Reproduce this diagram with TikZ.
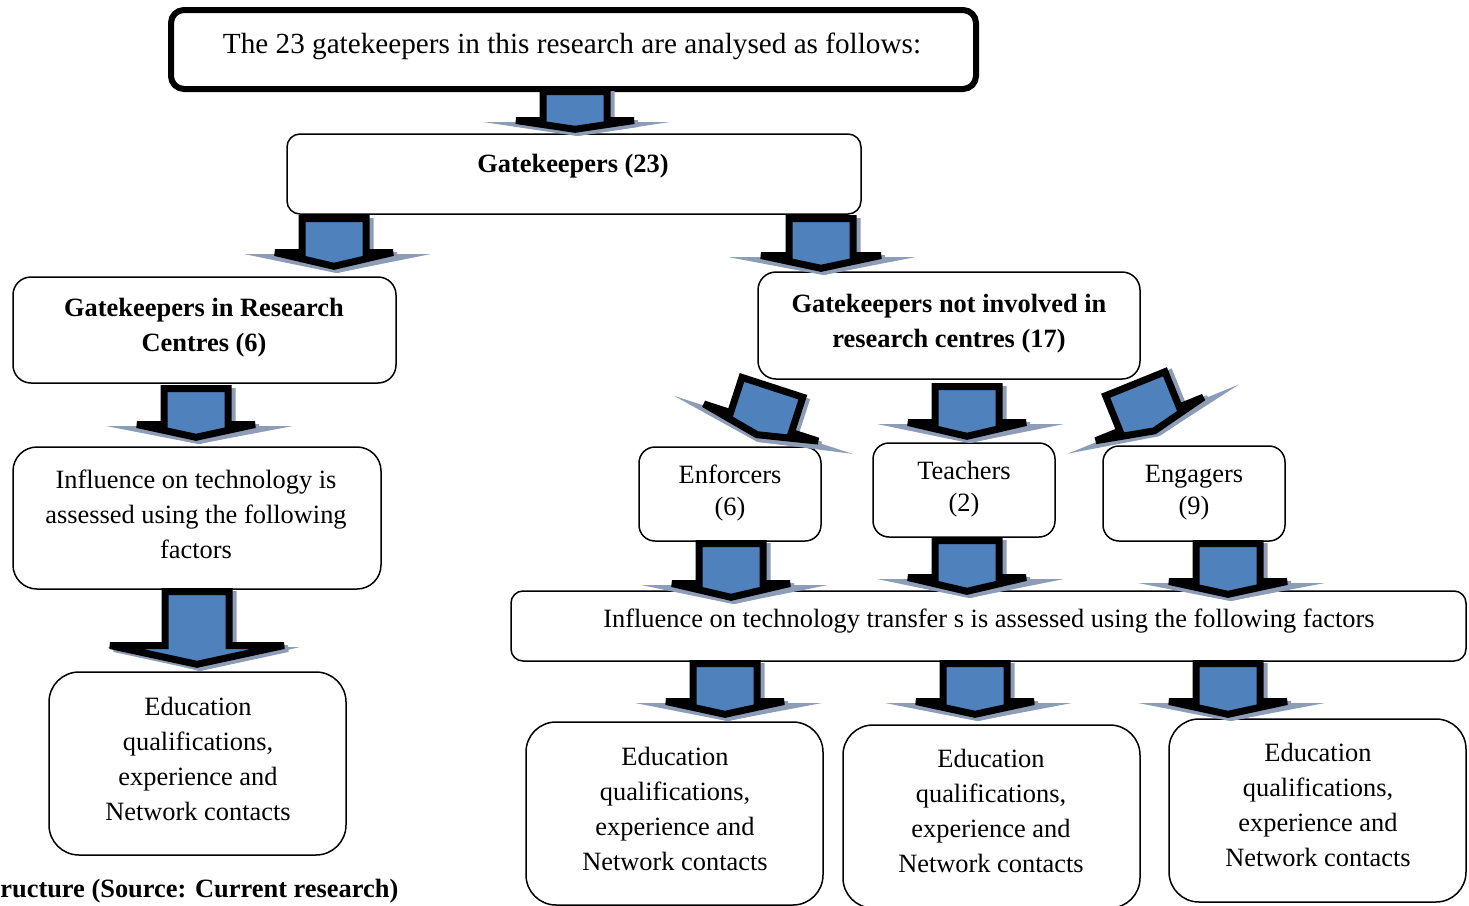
\documentclass[tikz,border=0pt]{standalone}
\usepackage{fontspec}
\setmainfont{Liberation Serif}
\usetikzlibrary{fit}
\definecolor{arrowblue}{HTML}{4F81BD}
\definecolor{arrowshade}{HTML}{8D9DB7}
\tikzset{
  box/.style={draw=black, line width=0.75pt, fill=white, inner sep=0pt, outer sep=0pt},
  txt/.style={align=center, inner sep=0pt, font=\fontsize{13.2}{17.5}\selectfont},
  txtb/.style={align=center, inner sep=0pt, font=\fontsize{13.2}{17.5}\selectfont\bfseries},
  txts/.style={align=center, inner sep=0pt, font=\fontsize{13.2}{16}\selectfont},
  % block arrow pointing down from its origin (top centre of the shaft):
  % #1 wing level, #2 tip, #3 wing half-span, #4/#5 shadow reach left/right
  pics/barrow/.style n args={5}{code={
    \fill[arrowshade] (-#4,#1+5) -- (#5,#1+5) -- (2,#2+3) -- cycle;
    \filldraw[arrowshade, line width=3.5pt, miter limit=2, shift={(4,3)}]
      (-32,3.5) -- (32,3.5) -- (32,#1+3.5) -- (#3-3,#1+3.5) -- (0,#2-3.7)
      -- (-#3+3,#1+3.5) -- (-32,#1+3.5) -- cycle;
    \filldraw[fill=arrowblue, draw=black, line width=3.5pt, miter limit=2]
      (-32,3.5) -- (32,3.5) -- (32,#1+3.5) -- (#3-3,#1+3.5) -- (0,#2-3.7)
      -- (-#3+3,#1+3.5) -- (-32,#1+3.5) -- cycle;
  }}
}
\begin{document}
\begin{tikzpicture}[x=0.5pt, y=-0.5pt]
\useasboundingbox (0,0) rectangle (1469,906);
\clip (0,0) rectangle (1469,906);

% boxes
\node[box, line width=3pt, rounded corners=6.5pt, fit={(171,10) (976,89)}] (b0) {};
\node[box, rounded corners=6.5pt, fit={(287,134) (861,214)}] (b1) {};
\node[box, rounded corners=9pt, fit={(13,277) (396,383)}] (b2) {};
\node[box, rounded corners=9pt, fit={(758,272) (1140,379)}] (b3) {};
\node[box, rounded corners=12pt, fit={(13,447) (381,589)}] (b4) {};
\node[box, rounded corners=15pt, fit={(49,672) (346,855)}] (b5) {};
\node[box, rounded corners=8pt, fit={(639,447) (821,541)}] (b6) {};
\node[box, rounded corners=8pt, fit={(873,443) (1055,537)}] (b7) {};
\node[box, rounded corners=8pt, fit={(1103,446) (1285,541)}] (b8) {};
\node[box, rounded corners=6pt, fit={(511,591) (1466,661)}] (b9) {};
\node[box, rounded corners=15pt, fit={(526,722) (823,905)}] (b10) {};
\node[box, rounded corners=15pt, fit={(843,725) (1140,908)}] (b11) {};
\node[box, rounded corners=15pt, fit={(1169,719) (1466,902)}] (b12) {};

% texts
\node[txt, font=\fontsize{14.6}{17.5}\selectfont] (t0) at (572,46) {\strut The 23 gatekeepers in this research are analysed as follows:\strut};
\node[txtb] (t1) at (573,165) {\strut Gatekeepers (23)\strut};
\node[txtb] (t2) at (204,326.5) {\strut Gatekeepers in Research\\Centres (6)\strut};
\node[txtb] (t3) at (949,322.5) {\strut Gatekeepers not involved in\\research centres (17)\strut};
\node[txt] (t4) at (196,516) {\strut Influence on technology is\\assessed using the following\\factors\strut};
\node[txt] (t5) at (198,760.5) {\strut Education\\qualifications,\\experience and\\Network contacts\strut};
\node[txts] (t6) at (730,493) {\strut Enforcers\\(6)\strut};
\node[txts] (t7) at (964,489) {\strut Teachers\\(2)\strut};
\node[txts] (t8) at (1194,492.5) {\strut Engagers\\(9)\strut};
\node[txt] (t9) at (989,620) {\strut Influence on technology transfer s is assessed using the following factors\strut};
\node[txt] (t10) at (675,810.5) {\strut Education\\qualifications,\\experience and\\Network contacts\strut};
\node[txt] (t11) at (991,812.5) {\strut Education\\qualifications,\\experience and\\Network contacts\strut};
\node[txt] (t12) at (1318,806.5) {\strut Education\\qualifications,\\experience and\\Network contacts\strut};
\node[txtb, anchor=west] (cap) at (0,891) {ructure (Source: Current research)};

% block arrows between the levels
\pic (a1) at (575,88) {barrow={29}{45}{62}{92}{95}};
\pic (a2) at (334,215) {barrow={34}{55}{62}{90}{97}};
\pic (a3) at (821,215) {barrow={37}{57}{63}{93}{95}};
\pic (a4) at (196,385) {barrow={36}{56}{62}{90}{97}};
\pic (a5) at (197,588) {barrow={54}{80}{90}{90}{103}};
\pic[rotate=-18] (a6) at (773.5,384) {barrow={37}{57}{63}{91}{97}};
\pic (a7) at (967,383) {barrow={36}{57}{62}{90}{97}};
\pic[rotate=22] (a8) at (1134,380.5) {barrow={38}{58}{61}{89}{96}};
\pic (a9) at (731,540) {barrow={40}{61}{62}{90}{97}};
\pic (a10) at (967,537) {barrow={37}{58}{62}{90}{97}};
\pic (a11) at (1228,540) {barrow={38}{58}{62}{90}{97}};
\pic (a12) at (725,660) {barrow={38}{58}{62}{90}{97}};
\pic (a13) at (975,660) {barrow={38}{58}{62}{90}{97}};
\pic (a14) at (1228,660) {barrow={38}{58}{62}{90}{97}};
\end{tikzpicture}
\end{document}
